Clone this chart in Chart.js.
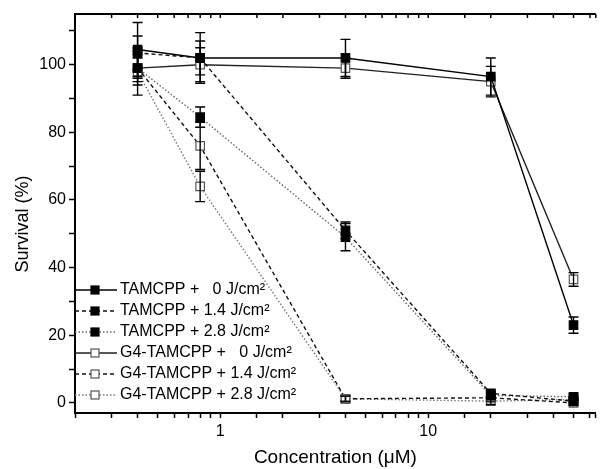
<!DOCTYPE html>
<html>
<head>
<meta charset="utf-8">
<script src="https://cdn.jsdelivr.net/npm/chart.js@4.4.0/dist/chart.umd.min.js"></script>
<style>
  html, body { margin: 0; padding: 0; background: #fff; }
</style>
</head>
<body>
<canvas id="myChart" width="603" height="469"></canvas>
<script>
// concentrations (uM) on the log x axis
const concentrations = [0.4, 0.8, 4, 20, 50];

const seriesLabels = [
  'TAMCPP +   0 J/cm²',
  'TAMCPP + 1.4 J/cm²',
  'TAMCPP + 2.8 J/cm²',
  'G4-TAMCPP +   0 J/cm²',
  'G4-TAMCPP + 1.4 J/cm²',
  'G4-TAMCPP + 2.8 J/cm²',
];

// survival (%)
const tamcpp0 = [104.5, 102, 102, 96.5, 23];
const tamcpp14 = [103.5, 102, 51, 2.8, 0.5];
const tamcpp28 = [99, 84.5, 49, 2.2, 1.8];
const g4tamcpp0 = [99, 100, 99, 95, 36.5];
const g4tamcpp14 = [99, 76, 1.2, 1.5, 0];
const g4tamcpp28 = [98, 64, 1.2, 0.5, 1];

// error bars (+/-)
const tamcpp0Err = [8, 7.5, 5.5, 5.5, 2.4];
const tamcpp14Err = [5, 5, 2.5, 1, 0.8];
const tamcpp28Err = [3, 3, 4, 1, 0.8];
const g4tamcpp0Err = [4, 5, 3, 4.5, 2];
const g4tamcpp14Err = [5, 7, 0.8, 1, 0.8];
const g4tamcpp28Err = [7, 4.5, 0.8, 1, 0.8];

const yTicks = [0, 20, 40, 60, 80, 100];
const yMinorTicks = [10, 30, 50, 70, 90, 110];
const xTickLabels = [1, 10];

const FONT = '"Liberation Sans", Arial, sans-serif';

const seriesValues = [tamcpp0, tamcpp14, tamcpp28, g4tamcpp0, g4tamcpp14, g4tamcpp28];
const seriesErrors = [tamcpp0Err, tamcpp14Err, tamcpp28Err, g4tamcpp0Err, g4tamcpp14Err, g4tamcpp28Err];
const seriesDash = [[], [4, 3], [1.5, 2], [], [4, 3], [1.5, 2]];
const seriesLine = ['#000', '#111', '#666', '#222', '#111', '#777'];
const seriesFilled = [true, true, true, false, false, false];

function toPoints(vals) {
  return concentrations.map((c, i) => ({ x: c, y: vals[i] }));
}

const datasets = seriesValues.map((vals, i) => ({
  label: seriesLabels[i],
  data: toPoints(vals),
  errors: seriesErrors[i],
  borderColor: seriesLine[i],
  borderWidth: 1.4,
  borderDash: seriesDash[i],
  tension: 0,
  pointStyle: 'rect',
  pointRadius: 6,
  pointBorderWidth: 1.2,
  pointBorderColor: seriesFilled[i] ? '#000' : '#555',
  pointBackgroundColor: seriesFilled[i] ? '#000' : '#fff',
}));

// error bars drawn through the scales
const errorBars = {
  id: 'errorBars',
  afterDatasetsDraw(chart) {
    const ctx = chart.ctx;
    const xs = chart.scales.x, ys = chart.scales.y;
    ctx.save();
    ctx.strokeStyle = '#000';
    ctx.lineWidth = 1.4;
    ctx.setLineDash([]);
    chart.data.datasets.forEach((ds) => {
      ds.data.forEach((p, i) => {
        const e = ds.errors[i];
        const px = xs.getPixelForValue(p.x);
        const top = ys.getPixelForValue(p.y + e);
        const bot = ys.getPixelForValue(p.y - e);
        ctx.beginPath();
        ctx.moveTo(px, top); ctx.lineTo(px, bot);
        ctx.moveTo(px - 5, top); ctx.lineTo(px + 5, top);
        ctx.moveTo(px - 5, bot); ctx.lineTo(px + 5, bot);
        ctx.stroke();
      });
    });
    ctx.restore();
  },
};

// top frame line with inward ticks, and the y title
const frameAndTitle = {
  id: 'frameAndTitle',
  afterDraw(chart) {
    const ctx = chart.ctx;
    const a = chart.chartArea;
    const xs = chart.scales.x;
    ctx.save();
    ctx.strokeStyle = '#000';
    ctx.lineWidth = 2;
    ctx.beginPath();
    ctx.moveTo(a.left, a.top); ctx.lineTo(a.right, a.top);
    ctx.stroke();
    ctx.lineWidth = 1.5;
    xs.ticks.forEach((t) => {
      const px = xs.getPixelForValue(t.value);
      ctx.beginPath();
      ctx.moveTo(px, a.top); ctx.lineTo(px, a.top + 4);
      ctx.stroke();
    });
    ctx.translate(23, 224);
    ctx.rotate(-Math.PI / 2);
    ctx.fillStyle = '#000';
    ctx.font = '18px ' + FONT;
    ctx.textAlign = 'center';
    ctx.textBaseline = 'middle';
    ctx.fillText('Survival (%)', 0, 0);
    ctx.restore();
  },
};

// legend inside the plot, lower left
const insideLegend = {
  id: 'insideLegend',
  afterDraw(chart) {
    const ctx = chart.ctx;
    const a = chart.chartArea;
    ctx.save();
    chart.data.datasets.forEach((ds, i) => {
      const y = 290 + i * 21;
      ctx.strokeStyle = ds.borderColor;
      ctx.lineWidth = 1.4;
      ctx.setLineDash(ds.borderDash);
      ctx.beginPath();
      ctx.moveTo(a.left, y); ctx.lineTo(a.left + 42, y);
      ctx.stroke();
      ctx.setLineDash([]);
      ctx.fillStyle = ds.pointBackgroundColor;
      ctx.strokeStyle = ds.pointBorderColor;
      ctx.lineWidth = 1.2;
      ctx.fillRect(a.left + 16, y - 4, 8, 8);
      ctx.strokeRect(a.left + 16, y - 4, 8, 8);
      ctx.fillStyle = '#000';
      ctx.font = '16px ' + FONT;
      ctx.textBaseline = 'middle';
      ctx.fillText(ds.label, a.left + 45, y);
    });
    ctx.restore();
  },
};

function isLabelled(v) {
  return xTickLabels.some((l) => Math.abs(l - v) < 1e-9);
}

const ctx = document.getElementById('myChart').getContext('2d');
new Chart(ctx, {
  type: 'line',
  data: { datasets: datasets },
  options: {
    responsive: false,
    animation: false,
    layout: { padding: { top: 14, right: 0, left: 0, bottom: 0 } },
    plugins: {
      legend: { display: false },
      tooltip: { enabled: false },
    },
    scales: {
      x: {
        type: 'logarithmic',
        position: 'bottom',
        min: 0.2,
        max: 64,
        border: { color: '#000', width: 2 },
        grid: { drawOnChartArea: false, tickLength: 5, tickColor: '#000', tickWidth: 1.5 },
        ticks: {
          autoSkip: false,
          maxRotation: 0,
          color: '#000',
          padding: 4,
          font: { size: 16, family: FONT },
          callback: (v) => (isLabelled(v) ? String(v) : ''),
        },
        title: {
          display: true,
          text: 'Concentration (μM)',
          color: '#000',
          font: { size: 19, family: FONT },
          padding: { top: 11, bottom: 0 },
        },
        afterFit: (s) => { s.height = 56; },
      },
      y: {
        min: -3,
        max: 115,
        border: { color: '#000', width: 2 },
        grid: { drawOnChartArea: false, tickLength: 6, tickColor: '#000', tickWidth: 1.5 },
        ticks: {
          color: '#000',
          padding: 3,
          font: { size: 16, family: FONT },
          callback: (v) => (yTicks.includes(v) ? String(v) : ''),
        },
        afterBuildTicks: (s) => {
          s.ticks = yTicks.concat(yMinorTicks).sort((p, q) => p - q).map((v) => ({ value: v }));
        },
        afterFit: (s) => { s.width = 75; },
      },
    },
  },
  plugins: [errorBars, frameAndTitle, insideLegend],
});
</script>
</body>
</html>
